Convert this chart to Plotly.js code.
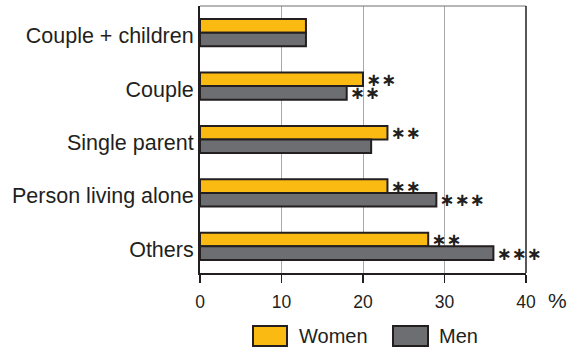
<!DOCTYPE html>
<html>
<head>
<meta charset="utf-8">
<script src="https://cdn.plot.ly/plotly-3.0.1.min.js"></script>
<style>html,body{margin:0;padding:0;background:#fff;}#chart{width:567px;height:352px;}</style>
</head>
<body>
<div id="chart"></div>
<script>
var categories = ['Couple + children', 'Couple', 'Single parent', 'Person living alone', 'Others'];
var women = [13, 20, 23, 23, 28];
var men = [13, 18, 21, 29, 36];
var womenSig = ['', '∗∗', '∗∗', '∗∗', '∗∗'];
var menSig = ['', '∗∗', '', '∗∗∗', '∗∗∗'];
var xTicks = [0, 10, 20, 30, 40];
var seriesNames = ['Women', 'Men'];

var lineCol = '#231f20';
var starFont = {family: 'DejaVu Sans', size: 18, color: lineCol, weight: 'bold'};
var traces = [
  {type: 'bar', orientation: 'h', name: seriesNames[0], y: categories, x: women,
   text: womenSig, textposition: 'outside', cliponaxis: false, constraintext: 'none',
   textfont: starFont,
   marker: {color: '#fbba12', line: {color: lineCol, width: 2}}, hoverinfo: 'none'},
  {type: 'bar', orientation: 'h', name: seriesNames[1], y: categories, x: men,
   text: menSig, textposition: 'outside', cliponaxis: false, constraintext: 'none',
   textfont: starFont,
   marker: {color: '#6d6e71', line: {color: lineCol, width: 2}}, hoverinfo: 'none'}
];

var layout = {
  width: 567, height: 352,
  margin: {l: 200, r: 41, t: 6, b: 79},
  paper_bgcolor: '#fff', plot_bgcolor: '#fff',
  barmode: 'group', bargap: 0.49, bargroupgap: 0,
  showlegend: false,
  font: {family: 'Liberation Sans, Arial, sans-serif', color: lineCol},
  xaxis: {range: [0, 40], tickvals: xTicks, ticktext: xTicks.map(String),
    showgrid: true, gridcolor: '#a7a9ac', gridwidth: 1,
    showline: true, linecolor: lineCol, linewidth: 2,
    ticks: 'outside', ticklen: 8, tickwidth: 1.5, tickcolor: lineCol,
    ticklabelstandoff: 4,
    tickfont: {size: 17.5, color: lineCol}, zeroline: false, fixedrange: true},
  yaxis: {range: [4.5, -0.5], autorange: false, type: 'category',
    showline: true, linecolor: lineCol, linewidth: 2, ticks: '',
    ticklabelshift: -3,
    tickfont: {size: 21.5, color: lineCol}, showgrid: false, zeroline: false, fixedrange: true},
  shapes: [
    {type: 'line', xref: 'paper', yref: 'paper', x0: 0, x1: 1, y0: 1, y1: 1, line: {color: '#6d6e71', width: 1}},
    {type: 'line', xref: 'paper', yref: 'paper', x0: 1, x1: 1, y0: 0, y1: 1, line: {color: lineCol, width: 1.5}},
    {type: 'rect', xref: 'paper', yref: 'paper', x0: (253-200)/326, x1: (287-200)/326, y0: -(346-273)/267, y1: -(326-273)/267, fillcolor: '#fbba12', line: {color: lineCol, width: 2}},
    {type: 'rect', xref: 'paper', yref: 'paper', x0: (393-200)/326, x1: (428-200)/326, y0: -(346-273)/267, y1: -(326-273)/267, fillcolor: '#6d6e71', line: {color: lineCol, width: 2}}
  ],
  annotations: [
    {xref: 'paper', yref: 'paper', x: (297-200)/326, y: -(336-273)/267, xanchor: 'left', yanchor: 'middle', text: seriesNames[0], showarrow: false, font: {size: 20, color: lineCol}},
    {xref: 'paper', yref: 'paper', x: (437-200)/326, y: -(336-273)/267, xanchor: 'left', yanchor: 'middle', text: seriesNames[1], showarrow: false, font: {size: 20, color: lineCol}},
    {xref: 'paper', yref: 'paper', x: (546-200)/326, y: -(300-273)/267, xanchor: 'left', yanchor: 'middle', text: '%', showarrow: false, font: {size: 21, color: lineCol}}
  ]
};
Plotly.newPlot('chart', traces, layout, {displayModeBar: false, staticPlot: true});
</script>
</body>
</html>
